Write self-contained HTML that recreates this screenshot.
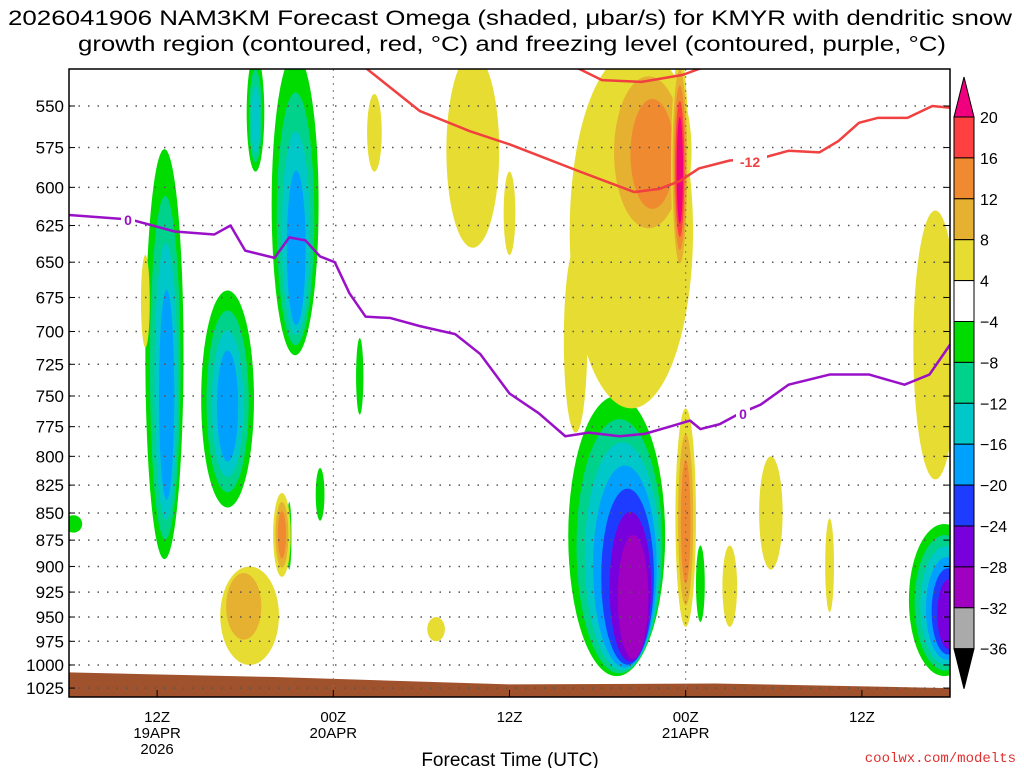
<!DOCTYPE html>
<html><head><meta charset="utf-8"><style>
body{margin:0;background:#fff;}
svg{display:block;font-family:"Liberation Sans",sans-serif;}
</style></head><body>
<svg id="chart" width="1024" height="768" viewBox="0 0 1024 768">
<text x="8" y="25" font-size="21" textLength="1004" lengthAdjust="spacingAndGlyphs">2026041906 NAM3KM Forecast Omega (shaded, μbar/s) for KMYR with dendritic snow</text>
<text x="78" y="51" font-size="21" textLength="868" lengthAdjust="spacingAndGlyphs">growth region (contoured, red, °C) and freezing level (contoured, purple, °C)</text>
<defs><clipPath id="plotclip"><rect x="69" y="69" width="881" height="628"/></clipPath></defs>
<g id="shades" clip-path="url(#plotclip)"></g>
<g id="grid"></g>
<g id="lines" clip-path="url(#plotclip)"></g>
<rect x="69" y="69" width="881" height="628" fill="none" stroke="#000" stroke-width="1.5"/>
<g id="axes"></g>
<text x="510" y="766" font-size="19" text-anchor="middle">Forecast Time (UTC)</text>
<text x="1016" y="762" font-size="14" fill="#e03030" text-anchor="end" font-family="Liberation Mono, monospace">coolwx.com/modelts</text>
<g id="cbar"></g>
</svg>
<script>
// y-axis pressure ticks (hPa)
const pressureTicks=[550,575,600,625,650,675,700,725,750,775,800,825,850,875,900,925,950,975,1000,1025];
// x-axis ticks (forecast hour from 00Z 19APR)
const timeTickHours=[12,24,36,48,60];
const timeTickLabels=[["12Z","19APR","2026"],["00Z","20APR"],["12Z"],["00Z","21APR"],["12Z"]];
// freezing level (0C) : hour, pressure
const frzHours=[6,10.2,13.2,15.9,17,18,20,21,22.1,23.1,24.1,25.1,26.2,27.9,29.9,32.3,34,36,38,39.8,41.4,43.5,45.2,46.9,48.3,49,50.3,51.7,53.1,55,57.8,60.5,62.9,64.6,66];
const frzP=[618,621,629,631,625,642,647,633,635,646,650,672,689,690,696,702,717,748,764,783,780,783,781,775,770,777,773,764,757,741,733,733,741,733,710];
// -12C isotherm
const m12Hours=[26.2,29.9,33.3,36,38,40.8,42.8,44.5,46.2,47.6,48.9,51,53,55,57.1,58.4,59.8,61.1,63.1,64.8,66];
const m12P=[528,553,565,573,580,590,597,603,601,596,588,583,582,577,578,571,560,557,557,550,551];
const m12bHours=[40.6,42.3,45,47.8,49.1];
const m12bP=[528,535,536,532,528];
// ground surface pressure
const sfcHours=[6,20,36,50,66];
const sfcP=[1008,1013,1021,1020,1025];
// omega blobs: center hour, top p, bottom p, half-width hours, peak value, core hour, core p
const blobHour=[12.5,16.8,18.7,21.4,43.3,65.6,25.8,23.1,6.3,21,49, 44.3,45.2,47.6,33.5,36,26.8,40.5,48,51,53.8,57.8,18.3,20.5,65,11.2,31];
const blobTop=[576,670,520,520,750,860,705,810,852,840,880, 520,520,520,520,590,543,640,760,880,800,855,900,832,615,645,950];
const blobBot=[893,845,590,718,1012,1012,765,857,868,903,955, 760,640,660,640,645,590,780,960,960,903,945,1000,910,820,712,975];
const blobHw=[1.3,1.8,0.6,1.6,3.3,2.4,0.25,0.3,0.6,0.15,0.3, 4.2,3.2,0.6,1.8,0.4,0.5,0.8,0.7,0.5,0.8,0.3,2,0.6,1.5,0.3,0.6];
const blobPeak=[-16,-16,-12,-16,-28,-24,-4,-4,-4,-4,-4, 4,12,20,4,4,4,4,12,4,4,4,8,12,4,4,4];
const blobCoreH=[12.7,16.8,18.7,21.5,44.6,66,25.8,23.1,6.3,21,49, 44,46,47.6,33.5,36,26.8,40.5,48,51,53.8,57.8,17.5,20.5,65,11.2,31];
const blobCoreP=[760,760,560,650,940,950,735,833,860,870,915, 640,580,590,580,620,565,720,860,920,850,900,930,870,720,680,962];

const NS='http://www.w3.org/2000/svg';
const X0=69,X1=950,Y0=69,Y1=697,H0=6,H1=66;
function xs(h){return X0+(h-H0)*(X1-X0)/(H1-H0);}
function ys(p){return 106+935*(Math.log(p)-Math.log(550));}
function mk(tag,attrs,parent){const e=document.createElementNS(NS,tag);for(const k in attrs)e.setAttribute(k,attrs[k]);parent.appendChild(e);return e;}
const negCols=['#00dc00','#00d28c','#00c8c8','#00a0ff','#1e3cff','#7800dc','#a000c0','#aaaaaa'];
const posCols=['#e6dc32','#e6b030','#f08a30','#ff4040','#f0007f'];
const shades=document.getElementById('shades');
for(let i=0;i<blobHour.length;i++){
  const n=Math.floor(Math.abs(blobPeak[i])/4);
  const cols=blobPeak[i]<0?negCols:posCols;
  const cx=xs(blobHour[i]),cy=(ys(blobTop[i])+ys(blobBot[i]))/2;
  const rx=xs(blobHour[i]+blobHw[i])-cx,ry=(ys(blobBot[i])-ys(blobTop[i]))/2;
  const kx=xs(blobCoreH[i]),ky=ys(blobCoreP[i]);
  for(let k=0;k<n;k++){
    const f=k/n, s=1-f*0.8;
    const e=mk('ellipse',{cx:cx+(kx-cx)*f,cy:cy+(ky-cy)*f,rx:rx*s,ry:ry*(1-f*0.65),fill:cols[Math.min(k,cols.length-1)]},shades);
    
    
  }
}
// ground
(function(){
  let d='M'+xs(sfcHours[0])+','+ys(sfcP[0]);
  for(let i=1;i<sfcHours.length;i++)d+=' L'+xs(sfcHours[i])+','+ys(sfcP[i]);
  d+=' L'+X1+','+Y1+' L'+X0+','+Y1+' Z';
  const g=mk('path',{d:d,fill:'#a0522d'},shades);
  
  
})();
// grid
const grid=document.getElementById('grid');
pressureTicks.forEach(p=>{
  const y=ys(p);
  const l=mk('line',{x1:X0,x2:X1,y1:y,y2:y,stroke:'#555','stroke-width':1.5,'stroke-dasharray':'1.5,8'},grid);
  
  
});
[24,48].forEach(h=>{
  const l=mk('line',{x1:xs(h),x2:xs(h),y1:Y0,y2:Y1,stroke:'#777','stroke-width':1,'stroke-dasharray':'2,5'},grid);
  
  
});
// lines
const lines=document.getElementById('lines');
function drawLine(hs,ps,col,name){
  const pts=hs.map((h,i)=>xs(h)+','+ys(ps[i])).join(' ');
  const l=mk('polyline',{points:pts,fill:'none',stroke:col,'stroke-width':2.5,'stroke-linejoin':'round'},lines);
  
  
}
drawLine(m12Hours,m12P,'#f04040','minus12c-isotherm');
drawLine(m12bHours,m12bP,'#f04040','minus12c-isotherm-upper');
drawLine(frzHours,frzP,'#9a10c8','freezing-level-line');
function lab(x,y,t,col,name){
  mk('rect',{x:x-t.length*5-2,y:y-8,width:t.length*10+4,height:15,fill:'#fff'},lines);
  const e=mk('text',{x:x,y:y+5,'font-size':14,'font-weight':'bold',fill:col,'text-anchor':'middle'},lines);
  e.textContent=t;
  
  
}
lab(128,220,'0','#9a10c8','freezing-level-label');
lab(743,414,'0','#9a10c8','freezing-level-label');
lab(750,162,'-12','#f04040','isotherm-label');
// axes
const axes=document.getElementById('axes');
pressureTicks.forEach(p=>{
  const y=ys(p);
  const t=mk('text',{x:64,y:y+6,'font-size':17,'text-anchor':'end'},axes);
  t.textContent=p;
  
  
  mk('line',{x1:X0,x2:X0+6,y1:y,y2:y,stroke:'#000'},axes);
  mk('line',{x1:X1-6,x2:X1,y1:y,y2:y,stroke:'#000'},axes);
});
timeTickHours.forEach((h,i)=>{
  const x=xs(h);
  mk('line',{x1:x,x2:x,y1:Y1,y2:Y1-7,stroke:'#000'},axes);
  timeTickLabels[i].forEach((s,j)=>{
    const t=mk('text',{x:x,y:722+j*16,'font-size':15,'text-anchor':'middle'},axes);
    t.textContent=s;
    
    
  });
});
// colorbar
const cb=document.getElementById('cbar');
const cbCols=['#ff4040','#f08a30','#e6b030','#e6dc32','#ffffff','#00dc00','#00d28c','#00c8c8','#00a0ff','#1e3cff','#7800dc','#a000c0','#aaaaaa'];
const cbLabels=['20','16','12','8','4','−4','−8','−12','−16','−20','−24','−28','−32','−36'];
const cx0=954,cw=20,cy0=117,ch=40.9;
mk('polygon',{points:`${cx0},${cy0} ${cx0+cw},${cy0} ${cx0+cw/2},${cy0-40}`,fill:'#f0007f',stroke:'#000'},cb);
cbCols.forEach((c,i)=>{
  const r=mk('rect',{x:cx0,y:cy0+i*ch,width:cw,height:ch,fill:c,stroke:'#000'},cb);
  
  
});
const yb=cy0+13*ch;
mk('polygon',{points:`${cx0},${yb} ${cx0+cw},${yb} ${cx0+cw/2},${yb+40}`,fill:'#000',stroke:'#000'},cb);
cbLabels.forEach((s,i)=>{
  const t=mk('text',{x:980,y:cy0+i*ch+6,'font-size':16},cb);
  t.textContent=s;
  
  
});
</script>
</body></html>
